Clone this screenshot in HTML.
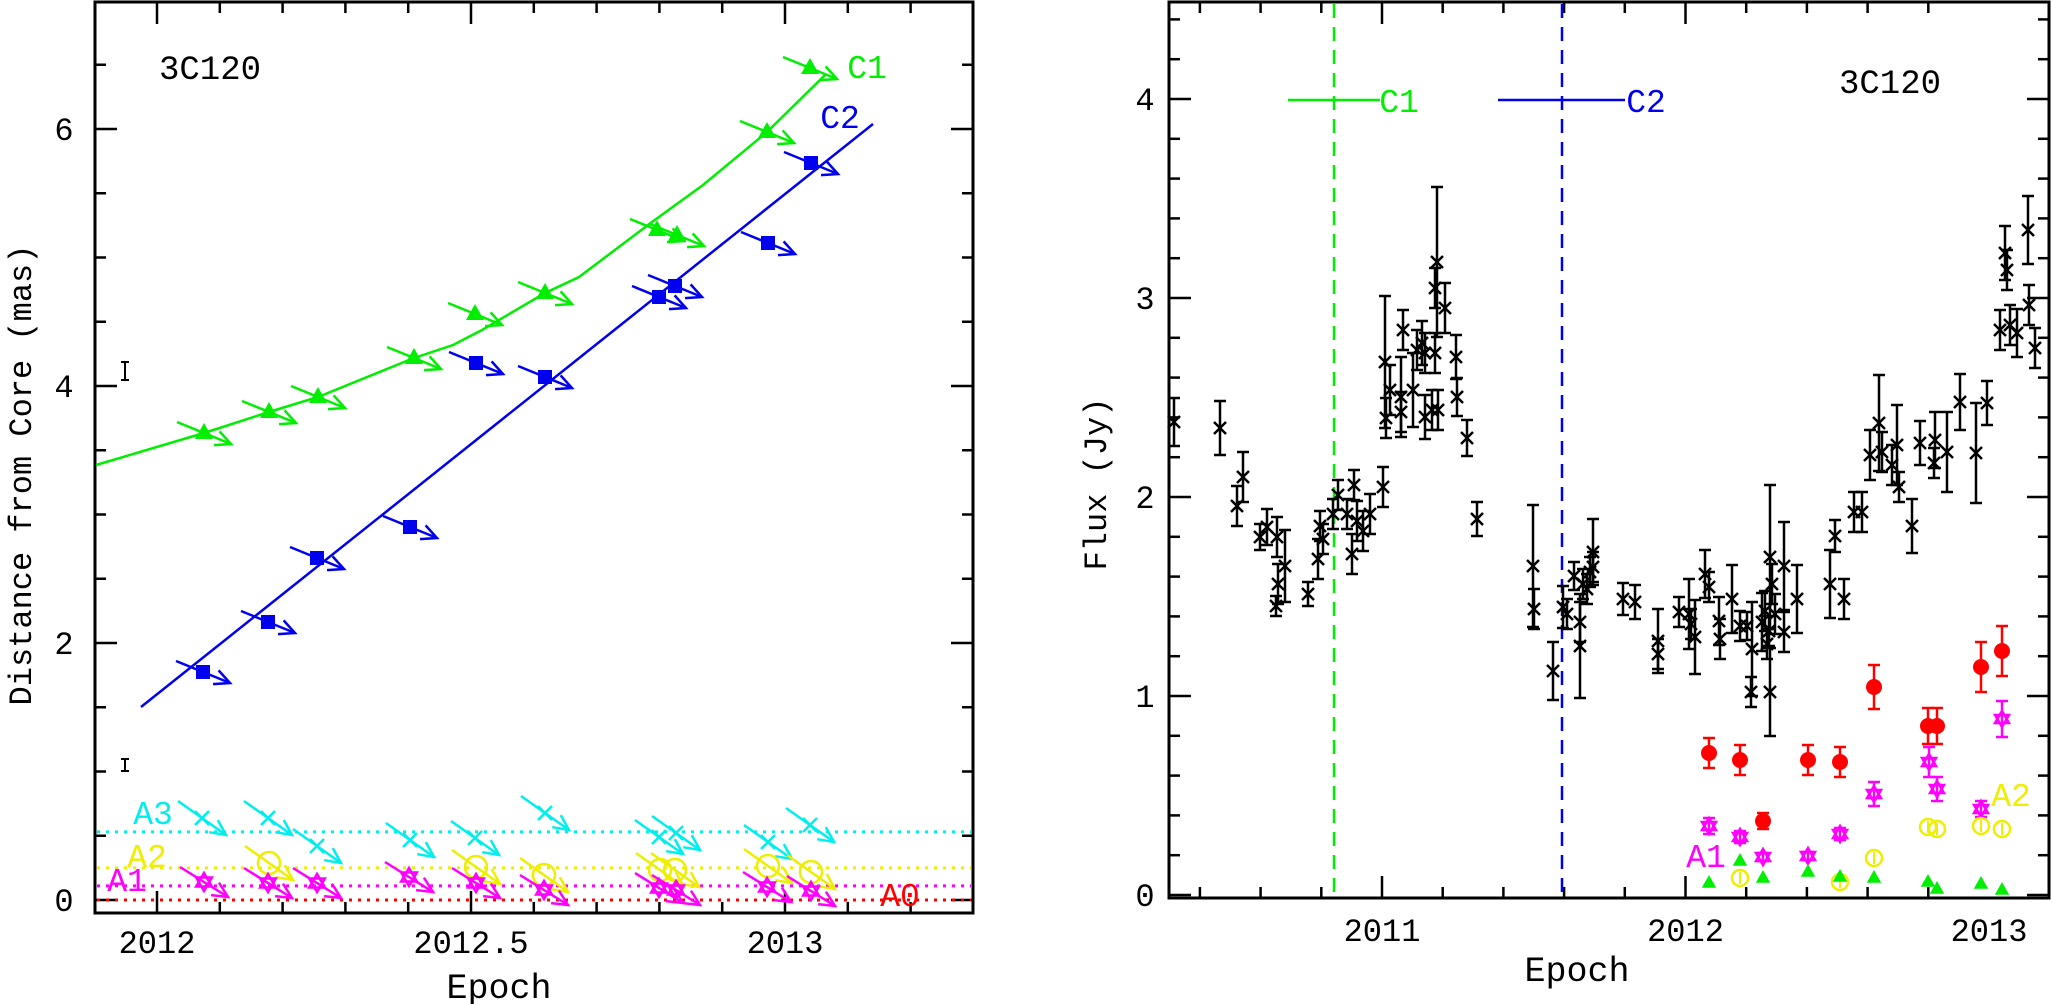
<!DOCTYPE html>
<html><head><meta charset="utf-8"><style>
html,body{margin:0;padding:0;background:#fff;}
svg{display:block;}
text{font-family:"Liberation Mono","DejaVu Sans Mono",monospace;}
</style></head><body>
<svg id="s" xmlns="http://www.w3.org/2000/svg" width="2052" height="1004" viewBox="0 0 2052 1004">
<rect x="0" y="0" width="2052" height="1004" fill="#fff"/>
<g id="g"></g>
<text x="210" y="79" font-size="34" text-anchor="middle">3C120</text>
<text x="867" y="78" font-size="33" fill="#00ee00" text-anchor="middle">C1</text>
<text x="840" y="128" font-size="33" fill="#0000ee" text-anchor="middle">C2</text>
<text x="153" y="824" font-size="33" fill="#00eeee" text-anchor="middle">A3</text>
<text x="147" y="867" font-size="33" fill="#eeee00" text-anchor="middle">A2</text>
<text x="127" y="891" font-size="33" fill="#ff00ff" text-anchor="middle">A1</text>
<text x="900" y="906" font-size="33" fill="#ff0000" text-anchor="middle">A0</text>
<text x="499" y="998" font-size="35" text-anchor="middle">Epoch</text>
<text transform="translate(31,475) rotate(-90)" font-size="32" text-anchor="middle">Distance from Core (mas)</text>
<text x="1890" y="93" font-size="34" text-anchor="middle">3C120</text>
<text x="1399" y="112" font-size="33" fill="#00ee00" text-anchor="middle">C1</text>
<text x="1646" y="112" font-size="33" fill="#0000ee" text-anchor="middle">C2</text>
<text x="1706" y="867" font-size="33" fill="#ff00ff" text-anchor="middle">A1</text>
<text x="2011" y="806" font-size="33" fill="#eeee00" text-anchor="middle">A2</text>
<text x="1577" y="981" font-size="35" text-anchor="middle">Epoch</text>
<text transform="translate(1106,484) rotate(-90)" font-size="32" text-anchor="middle">Flux (Jy)</text>
</svg>
<script>
var g=document.getElementById('g');var NS='http://www.w3.org/2000/svg';
function E(t,a,txt){var e=document.createElementNS(NS,t);for(var k in a)e.setAttribute(k,a[k]);if(txt!==undefined)e.textContent=txt;g.appendChild(e);return e;}
function L(x1,y1,x2,y2,c,w,extra){var a={x1:x1,y1:y1,x2:x2,y2:y2,stroke:c||'#000','stroke-width':w||2.5};if(extra)for(var k in extra)a[k]=extra[k];return E('line',a);}
function T(x,y,s,anchor,size){return E('text',{x:x,y:y,'font-size':size||32,'text-anchor':anchor||'middle'},s);}
var LX=function(t){return 157+628*(t-2012);};var LY=function(d){return 900-128.5*d;};
E('rect',{x:95,y:2,width:878,height:911,fill:'none',stroke:'#000','stroke-width':3});
for(var k=0;k<13;k++){var t=2012+k*0.1;var x=LX(t);var maj=(k%5==0);var l=maj?22:11;L(x,913,x,913-l,'#000',2.5);L(x,2,x,2+l,'#000',2.5);}
T(LX(2012),953,'2012');T(LX(2012.5),953,'2012.5');T(LX(2013),953,'2013');
for(var k=0;k<14;k++){var d=k*0.5;var y=LY(d);var maj=(k%4==0);var l=maj?22:11;L(95,y,95+l,y,'#000',2.5);L(973,y,973-l,y,'#000',2.5);}
[0,2,4,6].forEach(function(d){T(64,LY(d)+11,''+d);});
[[0.53,'#00eeee'],[0.25,'#eeee00'],[0.11,'#ff00ff'],[0,'#ff0000']].forEach(function(a){L(97,LY(a[0]),971,LY(a[0]),a[1],3,{'stroke-dasharray':'3,6'});});
function Ibar(x,y1,y2){L(x,y1,x,y2,'#000',2);L(x-4,y1,x+4,y1,'#000',2);L(x-4,y2,x+4,y2,'#000',2);}
Ibar(125,362,380);Ibar(125,759,771);
E('polyline',{points:'96,465 204,433 269,412 318,397 414,358 453,345 482,330 545,293 579,277 652,222 703,185 767,132 825,75',fill:'none',stroke:'#00ee00','stroke-width':2.5});
L(141,707,873,124,'#0000ee',2.5);
function arrow(mx,my,vx,vy,c){var sx=mx-vx,sy=my-vy,tx=mx+vx,ty=my+vy;L(sx,sy,tx,ty,c,2.5);var ang=Math.atan2(vy,vx);var hl=17,sp=0.45;
var p1=[tx-hl*Math.cos(ang-sp),ty-hl*Math.sin(ang-sp)],p2=[tx-hl*Math.cos(ang+sp),ty-hl*Math.sin(ang+sp)];
E('polyline',{points:p1[0]+','+p1[1]+' '+tx+','+ty+' '+p2[0]+','+p2[1],fill:'none',stroke:c,'stroke-width':2.5});}
function tri(x,y,s,c){E('polygon',{points:(x)+','+(y-s)+' '+(x-s*0.9)+','+(y+s*0.6)+' '+(x+s*0.9)+','+(y+s*0.6),fill:c});}
function star(x,y,s,c,w){E('polygon',{points:x+','+(y-s)+' '+(x-s*0.87)+','+(y+s*0.5)+' '+(x+s*0.87)+','+(y+s*0.5),fill:'none',stroke:c,'stroke-width':w||2.5});
E('polygon',{points:x+','+(y+s)+' '+(x-s*0.87)+','+(y-s*0.5)+' '+(x+s*0.87)+','+(y-s*0.5),fill:'none',stroke:c,'stroke-width':w||2.5});}
function cross(x,y,s,c,w){L(x-s,y-s,x+s,y+s,c,w||2.5);L(x-s,y+s,x+s,y-s,c,w||2.5);}
var green=[[204,433],[269,412],[318,397],[414,358],[475,314],[545,293],[657,230],[677,235],[767,132],[810,68]];
green.forEach(function(p){arrow(p[0],p[1],27,11,'#00ee00');tri(p[0],p[1],10,'#00ee00');});
var blue=[[203,672],[268,622],[317,558],[410,527],[476,363],[545,377],[659,297],[675,286],[768,243],[811,163]];
blue.forEach(function(p){arrow(p[0],p[1],27,11,'#0000ee');E('rect',{x:p[0]-7,y:p[1]-7,width:14,height:14,fill:'#0000ee'});});
var cyan=[[202,818],[268,818],[317,846],[410,840],[475,838],[545,813],[659,837],[676,833],[768,842],[810,825]];
cyan.forEach(function(p){arrow(p[0],p[1],24,17,'#00eeee');cross(p[0],p[1],7,'#00eeee');});
var yel=[[269,863],[476,867],[544,875],[660,870],[675,870],[768,866],[811,872]];
yel.forEach(function(p){arrow(p[0],p[1],24,17,'#eeee00');E('circle',{cx:p[0],cy:p[1],r:11,fill:'none',stroke:'#eeee00','stroke-width':2.5});});
var mag=[[204,882],[268,883],[317,883],[409,877],[476,883],[544,890],[659,888],[676,890],[767,887],[811,891]];
mag.forEach(function(p){arrow(p[0],p[1],24,15,'#ff00ff');star(p[0],p[1],9,'#ff00ff');});
var RX=function(t){return 1382+303.5*(t-2011);};var RY=function(f){return 895-199*f;};
E('rect',{x:1169,y:2,width:880,height:896,fill:'none',stroke:'#000','stroke-width':3});
for(var k=2;k<=14;k++){var t=2010+k*0.2;var x=RX(t);if(x>2046)break;var maj=(k%5==0);var l=maj?22:11;L(x,898,x,898-l,'#000',2.5);L(x,2,x,2+l,'#000',2.5);}
T(RX(2011),941,'2011');T(RX(2012),941,'2012');T(RX(2013),941,'2013');
for(var k=0;k<=22;k++){var f=k*0.2;var y=RY(f);var maj=(k%5==0);var l=maj?22:11;L(1169,y,1169+l,y,'#000',2.5);L(2049,y,2049-l,y,'#000',2.5);}
[0,1,2,3,4].forEach(function(f){T(1145,RY(f)+11,''+f);});
L(1334,4,1334,896,'#00ee00',2.5,{'stroke-dasharray':'14,9'});
L(1562,4,1562,896,'#0000ee',2.5,{'stroke-dasharray':'14,9'});
L(1288,100,1380,100,'#00ee00',2.5);L(1498,100,1625,100,'#0000ee',2.5);
var blk=[[1174,422,24],[1220,428,27],[1243,477,25],[1237,506,20],[1260,537,13],[1267,527,18],[1277,537,20],[1278,584,20],[1276,606,10],[1285,566,36],[1308,594,12],[1318,559,20],[1320,526,15],[1323,539,15],[1333,514,15],[1347,514,15],[1352,554,20],[1357,521,20],[1363,531,20],[1370,514,20],[1477,519,17],
[1338,495,15],[1354,485,15],[1383,487,20],[1385,362,66],[1386,418,20],[1390,390,25],[1401,397,40],[1401,412,20],[1403,330,20],[1413,390,37],[1417,350,20],[1422,343,22],[1425,353,20],[1425,417,22],[1432,410,20],[1435,353,20],[1437,262,75],[1435,288,20],[1438,410,20],[1445,308,25],[1456,357,22],[1457,397,19],[1467,438,18],
[1533,566,61],[1534,609,20],[1553,671,29],[1563,607,21],[1567,614,15],[1574,576,14],[1580,622,20],[1580,646,52],[1583,584,15],[1587,589,15],[1590,572,15],[1593,552,33],[1593,567,15],[1623,599,16],[1635,602,17],
[1658,641,32],[1658,654,15],[1679,612,15],[1689,614,35],[1691,624,15],[1695,637,37],[1705,574,24],[1709,587,15],[1719,621,24],[1720,639,20],[1732,599,34],[1740,626,15],[1747,626,14],[1752,649,47],[1751,692,15],[1762,622,29],[1765,611,20],[1767,644,15],[1769,631,15],[1770,557,72],[1770,692,44],[1772,584,20],[1775,614,20],[1784,632,20],[1784,566,44],[1797,599,34],[1830,584,34],[1835,536,16],[1844,599,20],
[1854,512,20],[1862,512,20],[1912,526,27],
[1870,455,25],[1879,423,48],[1882,452,20],[1892,465,20],[1897,445,40],[1899,487,15],[1920,443,22],[1934,463,15],[1935,440,28],[1947,452,40],[1960,402,28],[1976,453,50],[1987,403,22],[2000,330,20],[2005,253,27],[2007,270,20],[2010,325,20],[2017,333,24],[2028,230,34],[2029,305,20],[2035,348,20]];
function ebar(x,y,e,c){L(x,y-e,x,y+e,c,2.5);L(x-6,y-e,x+6,y-e,c,2.5);L(x-6,y+e,x+6,y+e,c,2.5);}
blk.forEach(function(p){ebar(p[0],p[1],p[2],'#000');cross(p[0],p[1],6,'#000',2.5);});
var red=[[1709,753,15],[1740,760,15],[1763,821,8],[1808,760,15],[1840,762,15],[1874,687,22],[1928,726,18],[1937,726,18],[1981,667,25],[2002,651,25]];
red.forEach(function(p){ebar(p[0],p[1],p[2],'#ff0000');E('circle',{cx:p[0],cy:p[1],r:8,fill:'#ff0000'});});
var mg=[[1709,826,8],[1740,837,6],[1763,857,4],[1808,856,4],[1840,834,6],[1874,794,12],[1929,762,15],[1937,789,12],[1981,809,8],[2002,719,18]];
mg.forEach(function(p){ebar(p[0],p[1],p[2],'#ff00ff');star(p[0],p[1],8,'#ff00ff',2.5);});
var yl=[[1740,878],[1840,882],[1874,858],[1928,827],[1937,829],[1981,826],[2002,829]];
yl.forEach(function(p){E('circle',{cx:p[0],cy:p[1],r:8,fill:'none',stroke:'#eeee00','stroke-width':2.5});L(p[0],p[1]-6,p[0],p[1]+6,'#eeee00',2);});
var gr=[[1709,883],[1740,861],[1763,878],[1808,872],[1840,877],[1874,878],[1928,882],[1937,889],[1981,884],[2002,890]];
gr.forEach(function(p){tri(p[0],p[1],8,'#00ee00');});
</script>
</body></html>
